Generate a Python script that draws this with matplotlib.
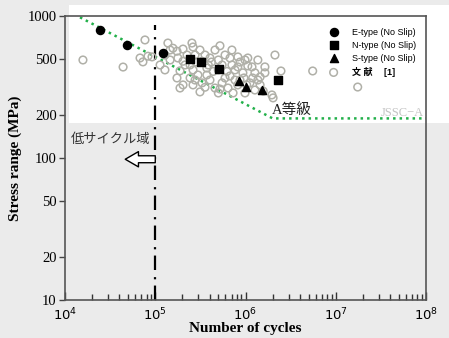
import numpy as np
import matplotlib
matplotlib.use('Agg')
import matplotlib.pyplot as plt
from matplotlib.patches import Rectangle
from matplotlib.ticker import FixedLocator, FixedFormatter, LogLocator, NullLocator

plt.rcParams['mathtext.fontset'] = 'stix'

#test data
e_cycles = [24400, 48600, 122000]
e_stress = [797, 625, 549]

n_cycles = [243000, 321000, 513000, 2290000]
n_stress = [495, 472, 424, 354]

s_cycles = [847000, 1010000, 1520000]
s_stress = [350, 316, 301]

#literature data [1]
ref_cycles = [15800, 44000, 76900, 67800, 73000, 83000, 92000, 138000, 157000, 174000,
              203000, 255000, 262000, 178000, 203000, 243000, 262000, 297000, 373000, 188000,
              174000, 203000, 188000, 262000, 330000, 373000, 330000, 521000, 593000, 404000,
              387000, 438000, 623000, 707000, 822000, 935000, 1180000, 1270000, 1450000, 1640000,
              2120000, 404000, 550000, 640000, 728000, 987000, 1270000, 1120000, 765000, 459000,
              1960000, 2020000, 1640000, 1370000, 1060000, 822000, 2470000, 5550000, 17500000, 113000,
              128000, 146000, 225000, 276000, 313000, 459000, 500000, 550000, 673000, 869000,
              1060000, 593000, 869000, 1030000, 1450000, 313000, 243000, 356000, 500000, 128000,
              146000, 765000, 1200000, 214000, 283000, 356000, 420000, 500000, 673000, 822000,
              960000, 1370000, 1570000, 707000, 987000, 276000, 521000]
ref_stress = [490, 437, 678, 506, 475, 521, 515, 645, 593, 565,
              585, 645, 605, 506, 480, 452, 417, 384, 384, 411,
              366, 327, 311, 327, 338, 430, 480, 617, 531, 506,
              452, 407, 407, 452, 438, 398, 438, 398, 372, 398,
              531, 354, 338, 311, 287, 287, 301, 338, 354, 311,
              278, 265, 438, 490, 506, 515, 410, 410, 316, 452,
              531, 490, 531, 531, 576, 576, 490, 452, 506, 474,
              445, 366, 354, 327, 327, 292, 366, 315, 287, 417,
              576, 417, 366, 452, 474, 531, 474, 417, 378, 327,
              366, 354, 296, 576, 490, 354, 306]

#JSSC-A design curve
jssc_cycles = [14650, 2000000, 100000000]
jssc_stress = [979, 190, 190]

y_ticks = [10, 20, 50, 100, 200, 500, 1000]
y_labels = ['10', '20', '50', '100', '200', '500', '1000']

fig = plt.figure(figsize=(4.49, 3.38), dpi=100, facecolor='#ebebeb')
fig.patches.append(Rectangle((0.1537, 0.636), 0.85, 0.349, transform=fig.transFigure,
                             facecolor='white', edgecolor='none', zorder=-1))
ax = fig.add_axes([0.1448, 0.1124, 0.804, 0.8403])
ax.set_facecolor('none')

ax.plot(jssc_cycles, jssc_stress, color='#22b04a', linestyle=(0, (1, 1.6)), lw=1.8, zorder=2)
ax.plot([1e5, 1e5], [10, 870], color='black', lw=1.6, linestyle=(0, (6.5, 2.8, 1, 3.2)), zorder=2)

ax.scatter(ref_cycles, ref_stress, s=30, facecolors='none', edgecolors='#b0b0a8', linewidths=1.1,
           label='文 献 　[1]', zorder=3)
ax.scatter(e_cycles, e_stress, s=34, marker='o', color='black', label='E-type (No Slip)', zorder=4)
ax.scatter(n_cycles, n_stress, s=28, marker='s', color='black', label='N-type (No Slip)', zorder=4)
ax.scatter(s_cycles, s_stress, s=34, marker='^', color='black', label='S-type (No Slip)', zorder=4)

#low cycle arrow
ax.annotate('', xy=(46500, 98), xytext=(1e5, 98),
            arrowprops=dict(arrowstyle='simple,head_length=0.95,head_width=1.1,tail_width=0.5',
                            mutation_scale=10, fc='white', ec='black', lw=1.0, shrinkA=0, shrinkB=0))
ax.text(11500, 134, '低サイクル域', fontsize=9.5, family=['Noto Sans CJK JP'], color='#333333',
        va='center', ha='left')
ax.text(1970000, 218, 'A等級', fontsize=10.5, family=['Liberation Serif', 'Noto Sans CJK JP'],
        color='#222222', va='center', ha='left')
ax.text(9.5e7, 206, 'JSSC−A', fontsize=9, family='Liberation Serif', color='#c4c4c4',
        va='center', ha='right')

ax.set_xscale('log')
ax.set_yscale('log')
ax.set_xlim(1e4, 1e8)
ax.set_ylim(10, 1000)

ax.yaxis.set_major_locator(FixedLocator(y_ticks))
ax.yaxis.set_major_formatter(FixedFormatter(y_labels))
ax.yaxis.set_minor_locator(NullLocator())
ax.xaxis.set_major_locator(LogLocator(base=10, numticks=10))
ax.xaxis.set_minor_locator(LogLocator(base=10, subs=np.arange(2, 10), numticks=10))

for lbl in ax.get_yticklabels():
    lbl.set_family('Liberation Serif')
ax.tick_params(axis='y', direction='out', length=4, width=1, color='#444444', labelsize=10.5, pad=2)
ax.tick_params(axis='x', which='major', direction='in', length=6, width=1, color='#333333',
               labelsize=9.5, pad=5)
ax.tick_params(axis='x', which='minor', direction='in', length=4, width=1, color='#333333')

for sp in ax.spines.values():
    sp.set_color('#555555')
    sp.set_linewidth(1.2)

ax.set_xlabel('Number of cycles', family='Liberation Serif', fontweight='bold', fontsize=11, labelpad=-1)
ax.set_ylabel('Stress range (MPa)', family='Liberation Serif', fontweight='bold', fontsize=11, labelpad=4)

handles, labels = ax.get_legend_handles_labels()
order = [1, 2, 3, 0]
leg = ax.legend([handles[i] for i in order], [labels[i] for i in order],
                loc='upper left', bbox_to_anchor=(0.719, 0.975), frameon=False, borderpad=0,
                handlelength=1, handletextpad=1.5, labelspacing=0.45,
                prop={'family': ['Liberation Sans', 'Noto Sans CJK JP'], 'size': 6.5})
leg.get_texts()[3].set_fontweight('bold')

fig.savefig('out.png', dpi=100, facecolor=fig.get_facecolor())
